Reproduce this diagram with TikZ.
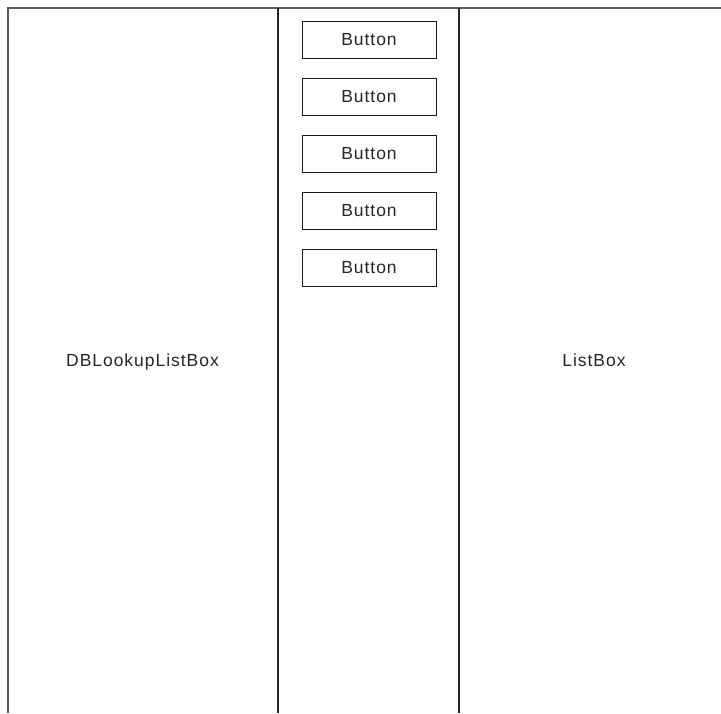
\documentclass[tikz,border=0pt]{standalone}
\usepackage{fontspec}
\setmainfont{Liberation Sans}[LetterSpace=5.5]
\begin{document}
\begin{tikzpicture}[x=1pt,y=-1pt,
  frame/.style={draw=black!65,line width=2pt},
  divider/.style={draw=black!85,line width=1.6pt},
  label/.style={text=black!85,font=\fontsize{17.5}{20}\selectfont,inner sep=0pt},
  button/.style={label,draw=black!90,line width=1pt,minimum width=134pt,minimum height=37pt}]
  \useasboundingbox (0,0) rectangle (721,713);
  % outer frame, open at the right and bottom
  \draw[frame] (721,8) -- (8,8) -- (8,713);
  % column dividers
  \draw[divider] (278,8) -- (278,713);
  \draw[divider] (459,8) -- (459,713);
  % column captions, sharing one baseline
  \node[label,anchor=base] (lookup) at (142.5,366.5) {DBLookupListBox};
  \node[label,anchor=base] (list) at (594,366.5) {ListBox};
  % stacked buttons in the middle column
  \foreach \i in {0,...,4} {
    \node[button] (btn\i) at (369,39.5+57*\i) {Button};
  }
\end{tikzpicture}
\end{document}
